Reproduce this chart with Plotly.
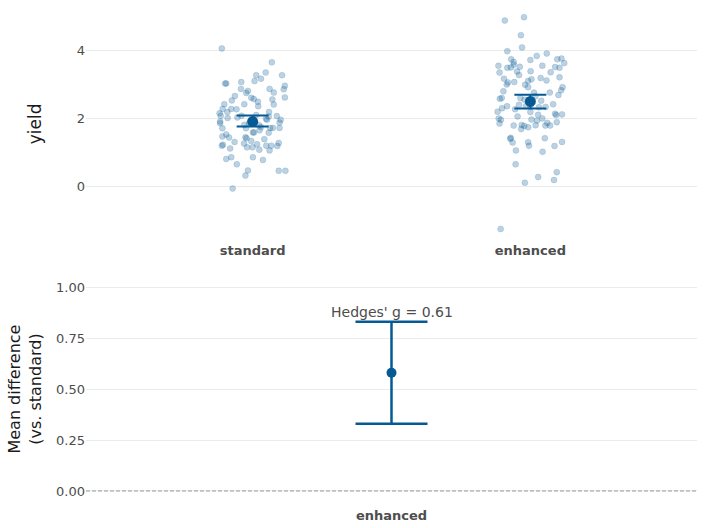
import plotly.graph_objects as go

# ---------------- data ----------------
groups = ["standard", "enhanced"]

standard_jitter = [-0.111, 0.069, 0.013, 0.047, 0.030, 0.106, 0.007, -0.099, -0.095, -0.041,
                   0.116, 0.112, -0.042, 0.061, 0.076, -0.017, -0.023, -0.064, -0.005, 0.004,
                   0.019, 0.020, -0.075, -0.102, -0.030, 0.071, 0.076, 0.116, -0.108, -0.077,
                   -0.058, -0.119, -0.115, -0.091, -0.040, 0.059, 0.058, 0.087, -0.090, -0.117,
                   -0.117, 0.048, 0.052, 0.013, 0.101, 0.097, 0.023, 0.030, 0.073, 0.063,
                   0.097, -0.109, -0.024, 0.001, 0.005, 0.058, -0.095, -0.109, -0.085, -0.026,
                   -0.022, -0.005, 0.042, -0.065, -0.031, 0.016, -0.020, 0.049, 0.067, 0.094,
                   0.089, -0.107, -0.111, -0.081, 0.000, 0.024, 0.061, -0.095, -0.077, 0.001,
                   0.037, -0.057, -0.017, 0.094, 0.118, -0.026, -0.072, -0.013, -0.030, 0.009,
                   -0.055, 0.025]
standard_yield = [4.07, 3.66, 3.28, 3.36, 3.18, 3.28, 3.11, 3.04, 3.04, 3.08,
                  2.97, 2.87, 2.88, 2.88, 2.77, 2.82, 2.76, 2.67, 2.62, 2.58,
                  2.50, 2.37, 2.54, 2.43, 2.43, 2.57, 2.42, 2.63, 2.29, 2.29,
                  2.28, 2.16, 2.09, 2.20, 2.09, 2.20, 2.07, 2.08, 2.02, 1.92,
                  1.87, 2.00, 1.97, 2.11, 1.97, 1.89, 1.81, 1.76, 1.73, 1.73,
                  1.73, 1.72, 1.72, 1.60, 1.60, 1.59, 1.54, 1.48, 1.45, 1.46,
                  1.43, 1.35, 1.40, 1.32, 1.27, 1.25, 1.16, 1.21, 1.21, 1.29,
                  1.20, 1.24, 1.21, 1.13, 1.16, 1.09, 1.07, 0.82, 0.87, 0.87,
                  0.79, 0.66, 0.48, 0.47, 0.47, 0.33, -0.05, 1.87, 1.82, 1.89,
                  2.04, 1.66]

enhanced_jitter = [-0.092, -0.023, -0.034, -0.030, -0.083, 0.059, 0.023, -0.069, -0.060, 0.000,
                   0.097, 0.112, 0.122, 0.089, 0.105, -0.115, -0.083, -0.070, -0.060, -0.038,
                   0.043, -0.111, -0.048, -0.041, 0.001, 0.073, 0.105, -0.095, 0.037, 0.004,
                   -0.008, 0.058, -0.081, -0.085, -0.058, -0.019, -0.008, 0.116, 0.111, 0.101,
                   -0.097, 0.013, 0.070, -0.110, -0.103, -0.036, 0.039, -0.041, 0.082, -0.084,
                   -0.102, -0.016, 0.031, 0.055, -0.118, -0.055, 0.000, 0.089, 0.093, 0.114,
                   0.028, -0.046, -0.114, -0.106, 0.004, 0.043, 0.024, -0.111, 0.095, 0.061,
                   -0.060, -0.031, -0.022, 0.019, 0.054, 0.071, -0.008, -0.033, -0.071, -0.072,
                   0.052, -0.064, -0.008, -0.005, 0.114, 0.087, -0.052, 0.044, -0.053, 0.095,
                   0.028, 0.085, -0.020, -0.107, -0.021, 0.018, 0.000]
enhanced_yield = [4.89, 4.99, 4.46, 4.10, 3.99, 3.92, 3.85, 3.75, 3.67, 3.73,
                  3.75, 3.77, 3.64, 3.52, 3.50, 3.56, 3.50, 3.51, 3.59, 3.53,
                  3.56, 3.36, 3.39, 3.29, 3.40, 3.37, 3.22, 3.18, 3.20, 3.16,
                  3.11, 3.13, 3.07, 3.01, 3.08, 3.00, 2.93, 2.93, 2.84, 2.70,
                  2.81, 2.77, 2.77, 2.59, 2.61, 2.61, 2.53, 2.41, 2.43, 2.37,
                  2.31, 2.37, 2.34, 2.35, 2.21, 2.28, 2.20, 2.15, 2.11, 2.13,
                  2.12, 2.07, 2.01, 1.97, 1.98, 2.01, 1.95, 1.86, 1.90, 1.88,
                  1.80, 1.82, 1.79, 1.81, 1.80, 1.80, 1.75, 1.70, 1.44, 1.41,
                  1.43, 1.30, 1.31, 1.21, 1.32, 1.20, 1.07, 1.03, 0.66, 0.43,
                  0.29, 0.20, 0.12, -1.24, 2.56, 2.66, 2.36]

group_means = [1.92, 2.51]
group_ci_low = [1.77, 2.30]
group_ci_high = [2.10, 2.71]

diff_labels = ["enhanced"]
diff_mean = [0.58]
diff_ci_low = [0.33]
diff_ci_high = [0.83]
hedges_g = 0.61

y1_ticks = [0, 2, 4]
y2_ticks = [0.0, 0.25, 0.5, 0.75, 1.0]

# ---------------- styles ----------------
MAIN = "#065a94"
FONT = "DejaVu Sans"
TXT = "#4d4d4d"
GRID = "#ebebeb"

fig = go.Figure()

for i, (jit, ys) in enumerate([(standard_jitter, standard_yield), (enhanced_jitter, enhanced_yield)]):
    fig.add_trace(go.Scatter(
        x=[i + j for j in jit], y=ys, mode="markers",
        marker=dict(size=6, color="rgba(6,90,148,0.27)",
                    line=dict(width=1, color="rgba(6,90,148,0.14)")),
        xaxis="x", yaxis="y", showlegend=False, hoverinfo="y"))

fig.add_trace(go.Scatter(
    x=[0, 1], y=group_means, mode="markers",
    marker=dict(size=11, color=MAIN),
    error_y=dict(type="data", symmetric=False,
                 array=[h - m for h, m in zip(group_ci_high, group_means)],
                 arrayminus=[m - l for l, m in zip(group_ci_low, group_means)],
                 color=MAIN, thickness=2, width=16),
    xaxis="x", yaxis="y", showlegend=False))

fig.add_trace(go.Scatter(
    x=[0], y=diff_mean, mode="markers",
    marker=dict(size=10, color=MAIN),
    error_y=dict(type="data", symmetric=False,
                 array=[h - m for h, m in zip(diff_ci_high, diff_mean)],
                 arrayminus=[m - l for l, m in zip(diff_ci_low, diff_mean)],
                 color=MAIN, thickness=2.5, width=36),
    xaxis="x2", yaxis="y2", showlegend=False))

fig.add_annotation(x=0, y=diff_ci_high[0], xref="x2", yref="y2",
                   text=f"Hedges' g = {hedges_g:.2f}", showarrow=False,
                   yanchor="bottom", yshift=0, font=dict(family=FONT, size=14, color=TXT))

fig.add_shape(type="line", xref="x2 domain", yref="y2", x0=0, x1=1, y0=0, y1=0,
              line=dict(color="#999999", width=1, dash="4px,2px"))

fig.update_layout(
    width=704, height=528,
    margin=dict(l=86, r=7, t=10, b=26, autoexpand=False),
    plot_bgcolor="white", paper_bgcolor="white",
    font=dict(family=FONT, color=TXT),
    xaxis=dict(domain=[0, 1], anchor="y", range=[-0.6, 1.6], automargin=False,
               tickmode="array", tickvals=[0, 1], ticktext=["<b>standard</b>", "<b>enhanced</b>"],
               showgrid=False, zeroline=False, showline=False,
               ticks="outside", ticklen=1, tickcolor="rgba(0,0,0,0)",
               tickfont=dict(size=13, color=TXT, family=FONT)),
    yaxis=dict(domain=[0.537, 1], anchor="x", range=[-1.5, 5.2], automargin=False,
               tickvals=y1_ticks, showgrid=True, gridcolor=GRID, zeroline=False,
               tickfont=dict(size=13, color=TXT, family=FONT),
               title=dict(text="yield", font=dict(size=17, color="#1a1a1a", family=FONT), standoff=30)),
    xaxis2=dict(domain=[0, 1], anchor="y2", range=[-0.5, 0.5], automargin=False,
                tickmode="array", tickvals=[0], ticktext=["<b>" + diff_labels[0] + "</b>"],
                showgrid=False, zeroline=False, showline=False,
                ticks="outside", ticklen=1, tickcolor="rgba(0,0,0,0)",
                tickfont=dict(size=13, color=TXT, family=FONT)),
    yaxis2=dict(domain=[0, 0.459], anchor="x2", range=[-0.054, 1.054], automargin=False,
                tickvals=y2_ticks, tickformat=".2f", showgrid=True, gridcolor=GRID, zeroline=False,
                tickfont=dict(size=13, color=TXT, family=FONT),
                title=dict(text="Mean difference<br>(vs. standard)",
                           font=dict(size=16, color="#1a1a1a", family=FONT), standoff=10)),
)

fig.write_html("out.html")
